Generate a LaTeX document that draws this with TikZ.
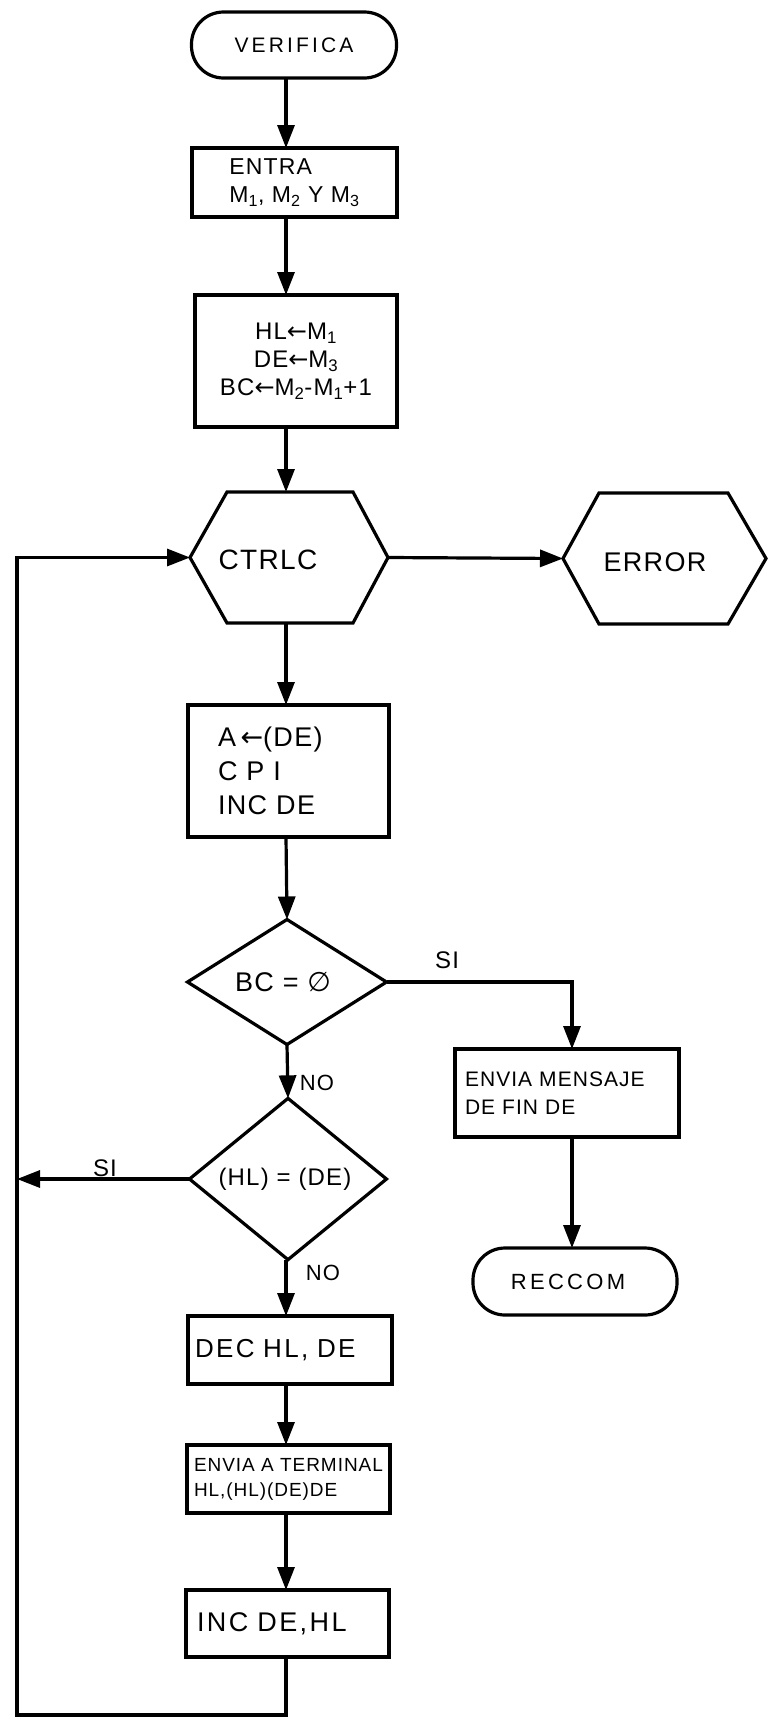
\documentclass[tikz,border=0pt]{standalone}
\usepackage{fontspec}
\setmainfont{Liberation Sans}[LetterSpace=5]
\newfontfamily\sym{DejaVu Sans}
\usetikzlibrary{arrows.meta,shapes.geometric}
\newcommand\fz[2]{\fontsize{#1}{#2}\selectfont}
\begin{document}
\begin{tikzpicture}[x=1pt,y=-1pt,line width=3.2pt,
  every node/.style={inner sep=0pt,outer sep=0pt},
  box/.style={draw,rectangle},
  termbox/.style={draw,rectangle,rounded corners=32pt},
  dia/.style={draw,diamond},
  arr/.style={-{Triangle[length=23pt,width=17pt]}},
  lbl/.style={font=\fz{22}{24}}]
\useasboundingbox (0,0) rectangle (774,1719);

% nodes
\node[termbox,minimum width=205pt,minimum height=66pt,font=\fz{21}{25}\addfontfeature{LetterSpace=15}] (ver) at (294,45) {VERIFICA};
\node[box,minimum width=205pt,minimum height=69pt,align=left,font=\fz{23}{28}] (entra) at (294.5,182.5)
  {ENTRA\\M\textsubscript{1}, M\textsubscript{2} Y M\textsubscript{3}};
\node[box,minimum width=202pt,minimum height=132pt,align=center,font=\fz{24}{28}] (asg) at (296,361)
  {HL{\sym ←}M\textsubscript{1}\\DE{\sym ←}M\textsubscript{3}\\BC{\sym ←}M\textsubscript{2}-M\textsubscript{1}+1};

\node[minimum width=198pt,minimum height=131pt] (ctrlc) at (289,557.5) {};
\draw (ctrlc.west) -- ([xshift=37pt]ctrlc.north west) -- ([xshift=-35pt]ctrlc.north east) -- (ctrlc.east)
  -- ([xshift=-35pt]ctrlc.south east) -- ([xshift=37pt]ctrlc.south west) -- cycle;
\node[font=\fz{28}{30}] (ctrlct) at (268,560) {CTRLC};

\node[minimum width=203pt,minimum height=131pt] (error) at (664.5,558.5) {};
\draw (error.west) -- ([xshift=36pt]error.north west) -- ([xshift=-38pt]error.north east) -- (error.east)
  -- ([xshift=-38pt]error.south east) -- ([xshift=36pt]error.south west) -- cycle;
\node[font=\fz{27}{30}] (errort) at (655,562) {ERROR};

\node[box,minimum width=201pt,minimum height=132pt,align=left,text width=141pt,inner xsep=30pt,font=\fz{27}{34}] (boxa) at (288.5,771)
  {A\,{\sym ←}(DE)\\C P I\\INC DE};

\node[dia,minimum width=199pt,minimum height=125pt,font=\fz{27}{30}] (d1) at (287,982) {BC = {\sym ∅}\hspace*{8pt}};
\node[dia,minimum width=197pt,minimum height=127pt,font=\fz{24}{28}] (d2) at (288,1179) {(HL) = (DE)\hspace*{6pt}};

\node[box,minimum width=224pt,minimum height=88pt,align=left,text width=204pt,inner xsep=10pt,font=\fz{21}{28}] (envia) at (567,1093)
  {ENVIA MENSAJE\\DE FIN DE\\[6pt]};
\node[termbox,minimum width=204pt,minimum height=67pt,font=\fz{22}{25}\addfontfeature{LetterSpace=15}] (reccom) at (575,1281.5) {RECCOM\hspace*{14pt}};

\node[box,minimum width=204pt,minimum height=68pt,align=left,text width=190pt,inner xsep=7pt,font=\fz{26}{28}\addfontfeature{LetterSpace=9}] (dec) at (290,1350) {DEC HL, DE};
\node[box,minimum width=203pt,minimum height=68pt,align=left,text width=189pt,inner xsep=7pt,font=\fz{19}{25}] (term2) at (288.5,1479)
  {ENVIA A TERMINAL\\HL,(HL)(DE)DE};
\node[box,minimum width=203pt,minimum height=67pt,align=left,text width=181pt,inner xsep=11pt,font=\fz{27}{28}\addfontfeature{LetterSpace=9}] (inc) at (287.5,1623.5) {INC DE,HL};

% labels
\node[font=\fz{24}{26}] (si1) at (447,960) {SI};
\node[lbl] (no1) at (317,1083) {NO};
\node[font=\fz{24}{26}] (si2) at (105,1168) {SI};
\node[lbl] (no2) at (323,1273) {NO};

% helper coordinates
\coordinate (col) at (286,0);
\coordinate (cr) at (572,979);
\coordinate (lx) at (17,1715);

% connectors
\draw[arr] (ver.south -| col) -- (entra.north -| col);
\draw[arr] (entra.south -| col) -- (asg.north -| col);
\draw[arr] (asg.south -| col) -- (ctrlc.north -| col);
\draw[arr] (ctrlc.east) -- (error.west);
\draw[arr] (ctrlc.south -| col) -- (boxa.north -| col);
\draw[arr] (boxa.south -| col) -- (d1.north);
\draw[arr] (d1.south) -- (d2.north);
\draw[arr] (d1.east) -- (d1.east -| cr) -- (cr |- envia.north);
\draw[arr] (cr |- envia.south) -- (cr |- reccom.north);
\draw[arr] (d2.west) -- (d2.west -| lx);
\draw[arr] (d2.south -| col) -- (dec.north -| col);
\draw[arr] (dec.south -| col) -- (term2.north -| col);
\draw[arr] (term2.south -| col) -- (inc.north -| col);
\draw[arr] (inc.south -| col) -- (col |- lx) -- (lx) -- (lx |- ctrlc.west) -- (ctrlc.west);
\end{tikzpicture}
\end{document}
